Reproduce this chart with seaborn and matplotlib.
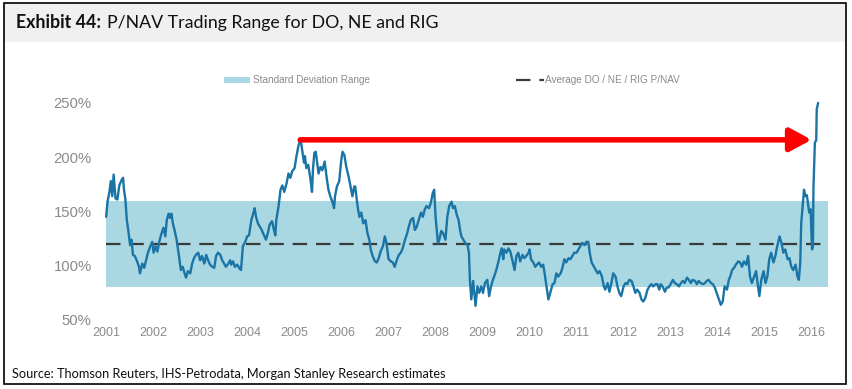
import matplotlib
matplotlib.use("Agg")
import matplotlib.pyplot as plt
import matplotlib.patheffects as pe
from matplotlib.patches import Patch, Rectangle
from matplotlib.lines import Line2D
import numpy as np
import pandas as pd
import seaborn as sns

# P/NAV series (decimal year, %)
years = [
    2001.00, 2001.03, 2001.07, 2001.10, 2001.13, 2001.16, 2001.20, 2001.24, 2001.28, 2001.33,
    2001.36, 2001.38, 2001.41, 2001.44, 2001.47, 2001.51, 2001.54, 2001.57, 2001.61, 2001.65,
    2001.70, 2001.72, 2001.77, 2001.81, 2001.85, 2001.89, 2001.94, 2001.98, 2002.01, 2002.05,
    2002.09, 2002.13, 2002.18, 2002.22, 2002.26, 2002.29, 2002.33, 2002.36, 2002.39, 2002.42,
    2002.46, 2002.50, 2002.55, 2002.59, 2002.63, 2002.67, 2002.70, 2002.74, 2002.79, 2002.83,
    2002.87, 2002.91, 2002.96, 2003.00, 2003.04, 2003.09, 2003.13, 2003.17, 2003.21, 2003.26,
    2003.30, 2003.34, 2003.38, 2003.43, 2003.47, 2003.51, 2003.55, 2003.60, 2003.64, 2003.66,
    2003.70, 2003.74, 2003.79, 2003.83, 2003.87, 2003.91, 2003.96, 2004.00, 2004.04, 2004.09,
    2004.13, 2004.16, 2004.19, 2004.23, 2004.27, 2004.31, 2004.36, 2004.40, 2004.44, 2004.48,
    2004.53, 2004.57, 2004.60, 2004.62, 2004.67, 2004.71, 2004.75, 2004.79, 2004.84, 2004.88,
    2004.92, 2004.96, 2005.01, 2005.05, 2005.09, 2005.12, 2005.15, 2005.18, 2005.21, 2005.23,
    2005.26, 2005.30, 2005.35, 2005.38, 2005.40, 2005.43, 2005.46, 2005.49, 2005.52, 2005.56,
    2005.60, 2005.65, 2005.69, 2005.73, 2005.77, 2005.82, 2005.85, 2005.87, 2005.91, 2005.96,
    2006.00, 2006.03, 2006.07, 2006.11, 2006.16, 2006.20, 2006.24, 2006.28, 2006.30, 2006.33,
    2006.36, 2006.39, 2006.43, 2006.47, 2006.52, 2006.56, 2006.60, 2006.63, 2006.67, 2006.72,
    2006.76, 2006.80, 2006.84, 2006.89, 2006.93, 2006.96, 2006.99, 2007.01, 2007.06, 2007.10,
    2007.14, 2007.19, 2007.23, 2007.27, 2007.31, 2007.36, 2007.40, 2007.44, 2007.48, 2007.53,
    2007.57, 2007.61, 2007.65, 2007.70, 2007.74, 2007.78, 2007.82, 2007.87, 2007.91, 2007.95,
    2007.98, 2008.01, 2008.04, 2008.06, 2008.09, 2008.13, 2008.17, 2008.22, 2008.26, 2008.30,
    2008.35, 2008.38, 2008.42, 2008.46, 2008.50, 2008.53, 2008.56, 2008.60, 2008.64, 2008.69,
    2008.72, 2008.74, 2008.77, 2008.81, 2008.86, 2008.90, 2008.94, 2008.98, 2009.02, 2009.06,
    2009.11, 2009.15, 2009.19, 2009.23, 2009.28, 2009.32, 2009.36, 2009.39, 2009.42, 2009.45,
    2009.47, 2009.52, 2009.56, 2009.60, 2009.64, 2009.69, 2009.73, 2009.77, 2009.81, 2009.86,
    2009.90, 2009.94, 2009.99, 2010.01, 2010.04, 2010.09, 2010.13, 2010.17, 2010.21, 2010.26,
    2010.30, 2010.33, 2010.37, 2010.41, 2010.45, 2010.50, 2010.54, 2010.58, 2010.62, 2010.67,
    2010.71, 2010.75, 2010.79, 2010.84, 2010.88, 2010.92, 2010.96, 2011.01, 2011.05, 2011.09,
    2011.13, 2011.18, 2011.22, 2011.26, 2011.29, 2011.33, 2011.38, 2011.42, 2011.46, 2011.50,
    2011.55, 2011.59, 2011.62, 2011.67, 2011.71, 2011.75, 2011.79, 2011.84, 2011.88, 2011.92,
    2011.96, 2012.01, 2012.05, 2012.09, 2012.13, 2012.18, 2012.22, 2012.26, 2012.30, 2012.35,
    2012.39, 2012.43, 2012.47, 2012.52, 2012.56, 2012.60, 2012.64, 2012.69, 2012.73, 2012.77,
    2012.80, 2012.84, 2012.89, 2012.93, 2012.97, 2013.01, 2013.06, 2013.10, 2013.14, 2013.19,
    2013.23, 2013.27, 2013.31, 2013.36, 2013.40, 2013.44, 2013.48, 2013.53, 2013.57, 2013.61,
    2013.65, 2013.70, 2013.74, 2013.78, 2013.82, 2013.87, 2013.91, 2013.95, 2013.99, 2014.04,
    2014.08, 2014.12, 2014.16, 2014.21, 2014.25, 2014.28, 2014.32, 2014.36, 2014.40, 2014.45,
    2014.49, 2014.53, 2014.57, 2014.62, 2014.66, 2014.70, 2014.74, 2014.79, 2014.83, 2014.87,
    2014.90, 2014.94, 2014.99, 2015.03, 2015.07, 2015.11, 2015.15, 2015.20, 2015.24, 2015.28,
    2015.33, 2015.37, 2015.41, 2015.45, 2015.50, 2015.54, 2015.58, 2015.62, 2015.67, 2015.71,
    2015.74, 2015.77, 2015.79, 2015.82, 2015.85, 2015.88, 2015.91, 2015.94, 2015.96, 2015.99,
    2016.02, 2016.04, 2016.05, 2016.08, 2016.11, 2016.12, 2016.15,
]
pnav = [
    145, 159, 168, 178, 164, 184, 162, 161, 174, 179,
    181, 170, 161, 142, 133, 119, 124, 110, 109, 105,
    99, 93, 102, 98, 105, 112, 118, 122, 112, 118,
    113, 122, 130, 135, 127, 142, 148, 144, 148, 139,
    132, 124, 109, 96, 99, 93, 89, 95, 93, 102,
    107, 110, 112, 105, 109, 102, 110, 105, 101, 99,
    98, 109, 112, 110, 105, 102, 99, 102, 105, 101,
    104, 99, 101, 98, 96, 118, 122, 127, 128, 142,
    148, 153, 145, 139, 136, 133, 128, 124, 130, 138,
    141, 133, 128, 142, 155, 170, 174, 168, 176, 185,
    181, 187, 190, 201, 210, 215, 213, 204, 195, 201,
    190, 193, 179, 168, 188, 204, 205, 195, 185, 191,
    188, 196, 182, 170, 164, 158, 153, 164, 173, 178,
    196, 205, 202, 191, 182, 173, 164, 173, 173, 162,
    152, 145, 149, 139, 142, 130, 124, 115, 109, 104,
    103, 107, 113, 118, 127, 122, 112, 106, 104, 103,
    99, 106, 110, 112, 116, 124, 129, 136, 142, 144,
    133, 136, 142, 149, 145, 152, 155, 153, 158, 167,
    170, 145, 130, 121, 124, 132, 130, 124, 145, 155,
    159, 153, 155, 147, 142, 133, 127, 124, 121, 119,
    112, 87, 69, 86, 63, 81, 75, 81, 75, 84,
    87, 72, 81, 87, 93, 99, 106, 112, 116, 106,
    115, 112, 116, 113, 106, 96, 109, 112, 104, 110,
    107, 109, 112, 115, 106, 103, 99, 101, 103, 99,
    101, 93, 81, 69, 75, 83, 84, 93, 90, 93,
    98, 106, 103, 107, 106, 109, 112, 112, 115, 118,
    121, 119, 122, 122, 112, 103, 99, 96, 93, 95,
    90, 81, 78, 84, 76, 84, 93, 90, 81, 75,
    72, 81, 84, 83, 87, 86, 81, 75, 78, 75,
    69, 67, 70, 78, 81, 83, 81, 83, 83, 78,
    83, 81, 76, 80, 80, 83, 87, 84, 83, 81,
    84, 86, 84, 89, 87, 84, 87, 86, 83, 86,
    84, 83, 84, 86, 87, 84, 83, 80, 75, 69,
    64, 67, 81, 78, 87, 90, 96, 98, 101, 104,
    103, 99, 104, 101, 109, 90, 84, 90, 95, 81,
    72, 87, 95, 84, 90, 106, 112, 103, 109, 118,
    127, 121, 112, 115, 106, 107, 99, 96, 101, 90,
    87, 103, 139, 155, 170, 164, 165, 155, 149, 152,
    115, 118, 170, 213, 216, 244, 250,
]

band_low, band_high = 80, 160      # standard deviation range
band_span = (2001.0, 2016.36)
average = 120                      # average DO / NE / RIG P/NAV
arrow_from, arrow_to, arrow_level = 2005.13, 2016.01, 216

year_ticks = list(range(2001, 2017))
pct_ticks = [50, 100, 150, 200, 250]

title_bold = "Exhibit 44:"
title_rest = "P/NAV Trading Range for DO, NE and RIG"
source = "Source: Thomson Reuters, IHS-Petrodata, Morgan Stanley Research estimates"

sns.set_style("white")
plt.rcParams['font.family'] = ['Liberation Sans', 'DejaVu Sans']

df = pd.DataFrame({'year': years, 'pnav': pnav})

fig = plt.figure(figsize=(8.52, 3.89), dpi=100)
ax = fig.add_axes([0.1174, 0.1774, 0.8627, 0.5784])

band_color = '#a9d8e2'
line_color = '#1a74a6'

ax.fill_between(band_span, band_low, band_high, color=band_color, lw=0, zorder=1)
ax.hlines(average, band_span[0], band_span[1], colors='#3a3a3a', lw=1.6,
          linestyles=(0, (6.5, 4)), zorder=2)
sns.lineplot(data=df, x='year', y='pnav', ax=ax, color=line_color, lw=1.7,
             zorder=3, estimator=None)

ax.annotate('', xy=(arrow_to, arrow_level), xytext=(arrow_from, arrow_level),
            arrowprops=dict(arrowstyle='-|>,head_length=0.65,head_width=0.35',
                            color='#ff0000', lw=4, mutation_scale=20,
                            shrinkA=0, shrinkB=0,
                            path_effects=[pe.SimplePatchShadow(offset=(0, 2.5),
                                                              shadow_rgbFace='#888888',
                                                              alpha=0.5),
                                          pe.Normal()]),
            zorder=4)

ax.set_xlim(2000.87, 2016.51)
ax.set_ylim(50, 257.3)
ax.set_xticks(year_ticks)
ax.set_xticklabels([str(y) for y in year_ticks])
ax.set_yticks(pct_ticks)
ax.set_yticklabels([f"{p}%" for p in pct_ticks])
ax.tick_params(axis='y', length=0, pad=6, labelsize=10.7, labelcolor='#8a8a8a')
ax.tick_params(axis='x', length=0, pad=5, labelsize=9, labelcolor='#8a8a8a')
ax.set_xlabel('')
ax.set_ylabel('')
sns.despine(ax=ax, left=True, bottom=True)

# legends
leg1 = ax.legend(handles=[Patch(facecolor=band_color, edgecolor='none',
                                label='Standard Deviation Range')],
                 loc='center left', bbox_to_anchor=(0.168, 1.065), frameon=False,
                 fontsize=7.2, handlelength=2.6, handleheight=0.5, handletextpad=0.3,
                 borderaxespad=0, borderpad=0)
for t in leg1.get_texts():
    t.set_color('#8a8a8a')
ax.add_artist(leg1)
leg2 = ax.legend(handles=[Line2D([], [], color='#3a3a3a', lw=1.6, ls=(0, (6.5, 4)),
                                 label='Average DO / NE / RIG P/NAV')],
                 loc='center left', bbox_to_anchor=(0.566, 1.065), frameon=False,
                 fontsize=7.2, handlelength=2.8, handletextpad=0.1,
                 borderaxespad=0, borderpad=0)
for t in leg2.get_texts():
    t.set_color('#8a8a8a')

# title bar and frame
W, H = 852, 389
fig.patches.append(Rectangle((4 / W, 1 - 42 / H), 842 / W, 39 / H,
                             transform=fig.transFigure, facecolor='#f0f0f0',
                             edgecolor='none', zorder=0))
fig.patches.append(Rectangle((4 / W, 1 - 384 / H), 842 / W, 381 / H,
                             transform=fig.transFigure, facecolor='none',
                             edgecolor='black', lw=1.2, zorder=5))
t1 = fig.text(16 / W, 1 - 23 / H, title_bold, fontsize=12.8, fontweight='bold',
              family=['Lato', 'DejaVu Sans'], va='center', ha='left', color='#111111')
fig.canvas.draw()
bb = t1.get_window_extent()
fig.text(bb.x1 / W + 6 / W, 1 - 23 / H, title_rest, fontsize=12.8,
         family=['Lato', 'DejaVu Sans'], va='center', ha='left', color='#111111')
fig.text(12 / W, 1 - 374 / H, source, fontsize=9.2,
         family=['Lato', 'DejaVu Sans'], va='center', ha='left', color='#111111')

fig.savefig('out.png', dpi=100)
